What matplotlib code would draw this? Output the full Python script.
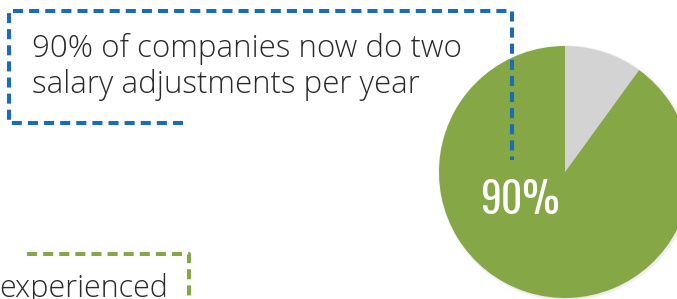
import matplotlib
matplotlib.use("Agg")
import matplotlib.pyplot as plt
from matplotlib.patches import Circle

# data
pie_labels = ["Other", "Two adjustments per year"]
pie_values = [10, 90]
pie_colors = ["#d3d3d3", "#86a746"]
big_label = "90%"
callout_lines = ["90% of companies now do two", "salary adjustments per year"]
second_text = "experienced"

W, H = 677, 299
BLUE = "#1a6cb5"
GREEN = "#86a746"
TEXT = "#2a2a2a"
BODY_FONT = ["Open Sans", "DejaVu Sans"]

fig = plt.figure(figsize=(W / 100, H / 100), dpi=100)
ax = fig.add_axes([0, 0, 1, 1])

def Y(y):
    # pixel row (from top) -> data y
    return H - y

# pie with a soft shadow
cx, cy, r = 565, 172, 126
for i in range(1, 4):
    ax.add_patch(Circle((cx + 1, Y(cy) - 1), r + i * 0.7, color="black",
                        alpha=0.025, lw=0, zorder=1))
ax.pie(pie_values, colors=pie_colors, startangle=90, counterclock=False,
       center=(cx, Y(cy)), radius=r, frame=True,
       wedgeprops=dict(linewidth=0, zorder=2))
ax.set_xlim(0, W)
ax.set_ylim(0, H)
ax.set_aspect("equal")
ax.axis("off")

ax.text(520, Y(214), big_label, color="white", fontsize=30, weight="medium",
        family=["Oswald", "DejaVu Sans"], ha="center", va="baseline", zorder=5)

# blue dashed callout
dash = (0, (2.5, 1.5))
bx = [183, 9, 9, 512, 512]
by = [123, 123, 11, 11, 160]
ax.plot(bx, [Y(v) for v in by], color=BLUE, lw=2.9, linestyle=dash,
        dash_capstyle="butt", solid_joinstyle="miter", zorder=4)
ax.text(32, Y(57), callout_lines[0], color=TEXT, fontsize=22.5,
        family=BODY_FONT, weight="light", va="baseline", zorder=4)
ax.text(32, Y(93), callout_lines[1], color=TEXT, fontsize=22.5,
        family=BODY_FONT, weight="light", va="baseline", zorder=4)

# green dashed callout (cut off at the bottom)
gx = [27, 189, 189]
gy = [254, 254, 310]
ax.plot(gx, [Y(v) for v in gy], color=GREEN, lw=2.9, linestyle=dash,
        dash_capstyle="butt", zorder=4)
ax.text(-1, Y(297), second_text, color=TEXT, fontsize=22,
        family=BODY_FONT, weight="light", va="baseline", zorder=4)

fig.savefig("out.png", dpi=100)
